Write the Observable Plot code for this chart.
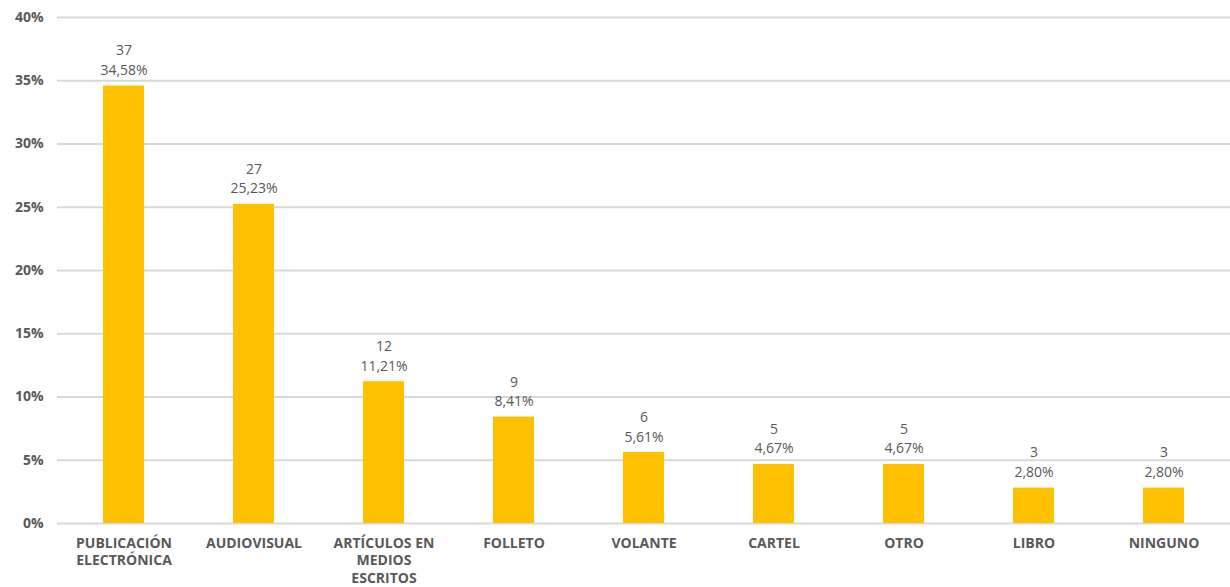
<!DOCTYPE html>
<html>
<head>
<meta charset="utf-8">
<script src="https://cdn.jsdelivr.net/npm/d3@7"></script>
<script src="https://cdn.jsdelivr.net/npm/@observablehq/plot@0.6"></script>
<style>
  html, body { margin: 0; padding: 0; background: #fff; }
  #chart svg { display: block; }
</style>
</head>
<body>
<div id="chart"></div>
<script>
const categories = ["PUBLICACIÓN\nELECTRÓNICA", "AUDIOVISUAL", "ARTÍCULOS EN\nMEDIOS\nESCRITOS", "FOLLETO", "VOLANTE", "CARTEL", "OTRO", "LIBRO", "NINGUNO"];
const counts = [37, 27, 12, 9, 6, 5, 5, 3, 3];
const percents = [34.58, 25.23, 11.21, 8.41, 5.61, 4.67, 4.67, 2.80, 2.80];
const yTicks = [0, 5, 10, 15, 20, 25, 30, 35, 40];

const data = categories.map((c, i) => ({
  cat: c,
  n: counts[i],
  pct: percents[i],
  label: counts[i] + "\n" + percents[i].toFixed(2).replace(".", ",") + "%"
}));

const chart = Plot.plot({
  width: 1230,
  height: 587,
  marginTop: 17,
  marginBottom: 64,
  marginLeft: 57,
  marginRight: 0,
  style: { fontFamily: "'Open Sans', sans-serif", fontSize: "13px", color: "#595959", background: "#fff" },
  x: { domain: categories, paddingInner: 0.685, paddingOuter: 0.3425, label: null },
  y: { domain: [0, 40], label: null },
  marks: [
    Plot.ruleY(yTicks, { stroke: "#d9d9d9", strokeWidth: 2 }),
    Plot.axisY({ ticks: yTicks, tickSize: 0, tickPadding: 14, tickFormat: d => d + "%", fontWeight: "bold", fontSize: 14, fill: "#595959", label: null }),
    Plot.axisX({ tickSize: 0, tickPadding: 12, fontWeight: "bold", fontSize: 14, fill: "#595959", lineHeight: 1.25, label: null, textAnchor: "middle" }),
    Plot.barY(data, { x: "cat", y: "pct", fill: "#FFC000" }),
    Plot.text(data, { x: "cat", y: "pct", text: "label", lineAnchor: "bottom", dy: -11, lineHeight: 1.4, fontSize: 14, fill: "#595959" })
  ]
});
document.getElementById("chart").appendChild(chart);
</script>
</body>
</html>
